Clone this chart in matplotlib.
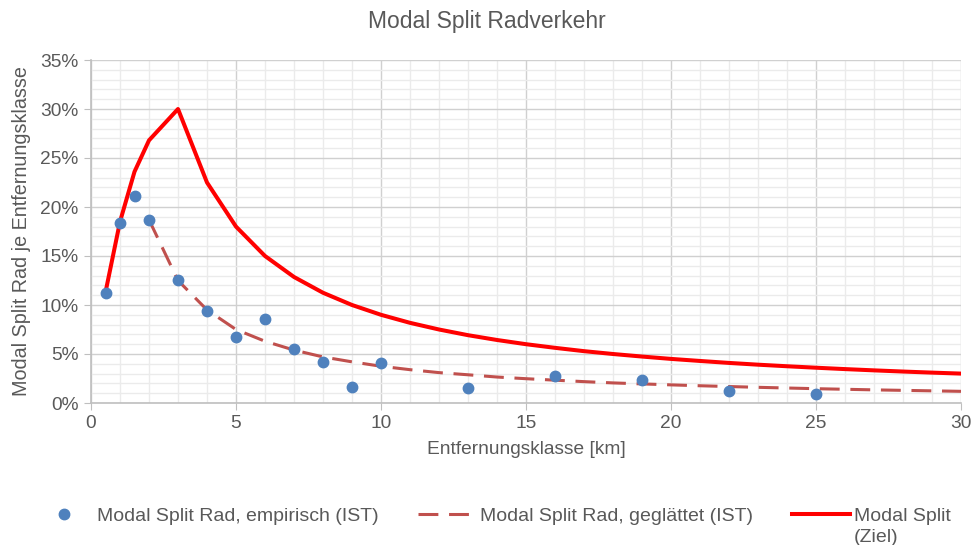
import matplotlib.pyplot as plt
from matplotlib.ticker import MultipleLocator, PercentFormatter

plt.rcParams['font.family'] = ['Liberation Sans', 'DejaVu Sans']

# empirische Werte (IST)
x_emp = [0.5, 1, 1.5, 2, 3, 4, 5, 6, 7, 8, 9, 10, 13, 16, 19, 22, 25]
y_emp = [11.2, 18.4, 21.1, 18.7, 12.6, 9.4, 6.7, 8.6, 5.5, 4.2, 1.6, 4.1,
         1.5, 2.8, 2.35, 1.2, 0.9]

# geglaettete Kurve (IST)
x_glatt = list(range(2, 31))
y_glatt = [18.7, 12.5, 9.5, 7.5, 6.3, 5.4, 4.7, 4.2, 3.75, 3.4, 3.1, 2.88,
           2.65, 2.48, 2.33, 2.18, 2.05, 1.95, 1.85, 1.76, 1.68, 1.6, 1.53,
           1.46, 1.4, 1.34, 1.29, 1.24, 1.19]

# Zielwerte
x_ziel = [0.5, 1, 1.5, 2] + list(range(3, 31))
y_ziel = [11.3, 18.5, 23.6, 26.8, 30.0, 22.5, 18.0, 15.0, 12.86, 11.25, 10.0,
          9.0, 8.18, 7.5, 6.92, 6.43, 6.0, 5.63, 5.29, 5.0, 4.74, 4.5, 4.29,
          4.09, 3.91, 3.75, 3.6, 3.46, 3.33, 3.21, 3.1, 3.0]

grau = '#595959'
fs = 13.8

fig = plt.figure(figsize=(9.74, 5.45), dpi=100)
ax = fig.add_axes([91/974, 1 - 403/545, 870/974, 343/545])

ax.plot(x_emp, y_emp, 'o', color='#4F81BD', markersize=7.5,
        label='Modal Split Rad, empirisch (IST)', zorder=4)
ax.plot(x_glatt, y_glatt, color='#C0504D', lw=2.2, dashes=(6.5, 3.5),
        label='Modal Split Rad, geglättet (IST)', zorder=3)
ax.plot(x_ziel, y_ziel, color='#FF0000', lw=2.9,
        label='Modal Split', zorder=3)

ax.set_xlim(0, 30)
ax.set_ylim(0, 35)
ax.xaxis.set_major_locator(MultipleLocator(5))
ax.xaxis.set_minor_locator(MultipleLocator(1))
ax.yaxis.set_major_locator(MultipleLocator(5))
ax.yaxis.set_minor_locator(MultipleLocator(1))
ax.yaxis.set_major_formatter(PercentFormatter(decimals=0))

ax.grid(which='major', color='#D0D0D0', lw=1)
ax.grid(which='minor', color='#EBEBEB', lw=1)
ax.set_axisbelow(True)

for s in ['top', 'right']:
    ax.spines[s].set_visible(False)
for s in ['left', 'bottom']:
    ax.spines[s].set_color('#BFBFBF')
    ax.spines[s].set_linewidth(1.2)

ax.tick_params(which='major', length=5, color='#BFBFBF', labelsize=fs,
               labelcolor=grau, pad=4)
ax.tick_params(which='minor', length=0)

ax.set_xlabel('Entfernungsklasse [km]', fontsize=fs, color=grau, labelpad=6)
ax.set_ylabel('Modal Split Rad je Entfernungsklasse', fontsize=fs + 0.4,
              color=grau, labelpad=7)
fig.suptitle('Modal Split Radverkehr', x=0.5, y=0.982, fontsize=16.5,
             color=grau)

leg = fig.legend(loc='center left', bbox_to_anchor=(0.036, 1 - 516/545),
                 ncol=3, frameon=False, fontsize=14, handlelength=3.0,
                 handletextpad=0.2, columnspacing=2.0, borderpad=0,
                 borderaxespad=0)
for t in leg.get_texts():
    t.set_color(grau)

# zweite Zeile des dritten Legendeneintrags
fig.canvas.draw()
bb = leg.get_texts()[2].get_window_extent()
fig.text(bb.x0 / fig.bbox.width, 1 - 538/545, '(Ziel)', fontsize=14,
         color=grau, va='center', ha='left')

fig.savefig('out.png', dpi=100)
